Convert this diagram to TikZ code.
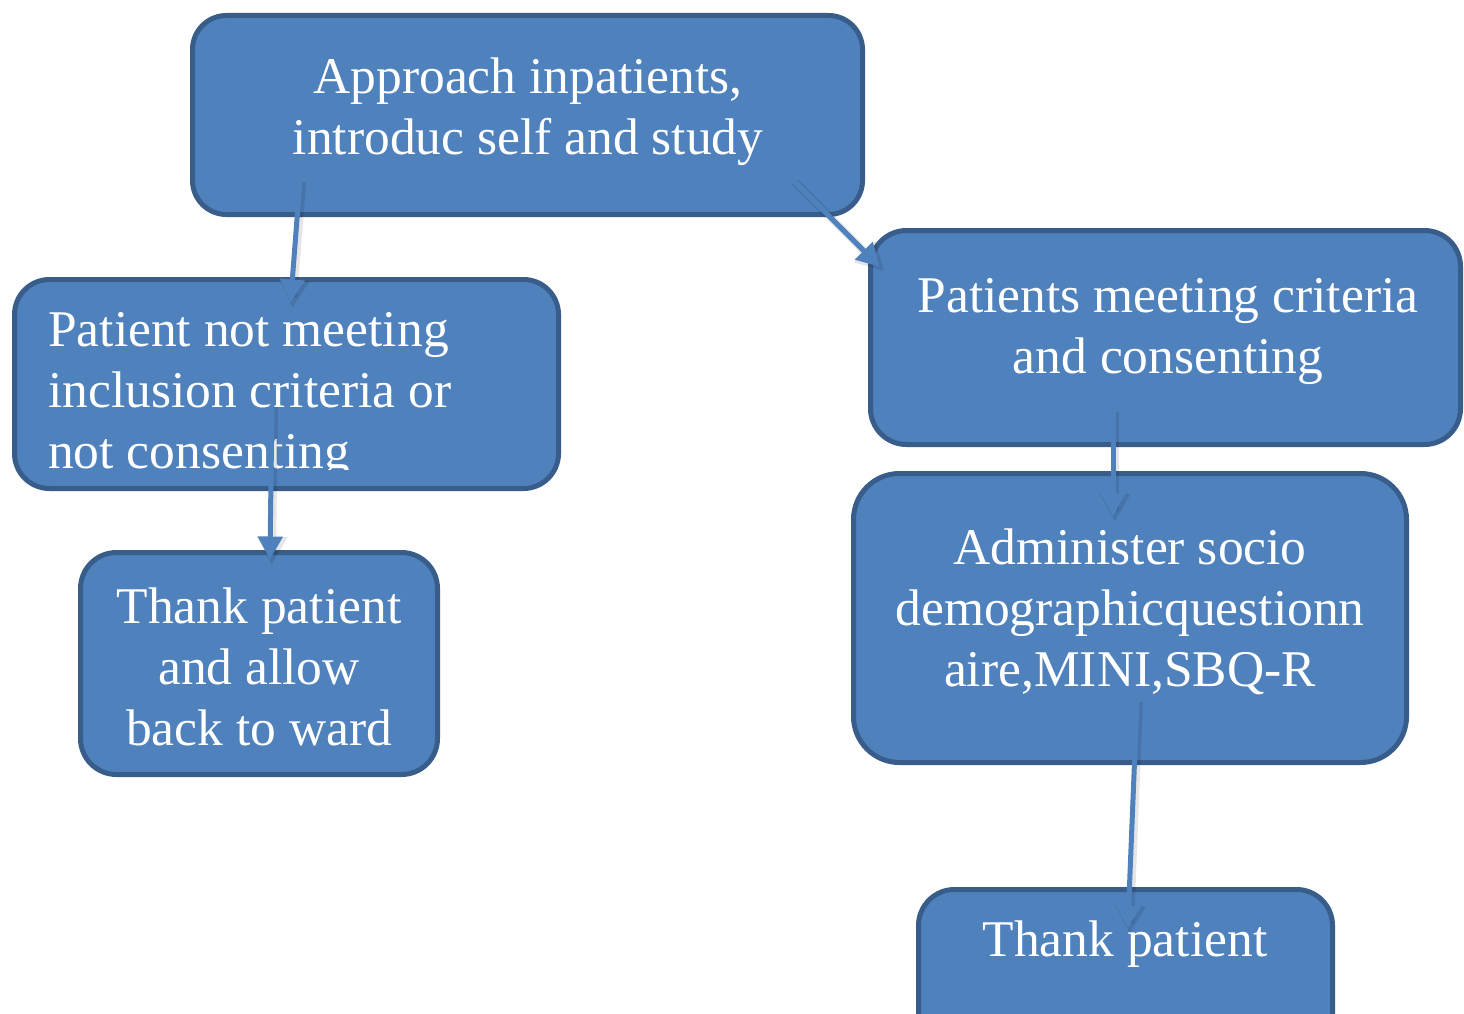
\documentclass[tikz,border=0pt]{standalone}
\usepackage{fontspec}
\setmainfont{Liberation Serif}
\usetikzlibrary{calc}
\definecolor{boxfill}{HTML}{4F81BD}
\definecolor{boxline}{HTML}{385D8A}
% straight connector with a filled triangular head, from #1 to #2
\newcommand\flowarrow[3]{%
  \coordinate (#2-base) at ($(#2)!15pt!(#1)$);
  \draw[#3] (#1) -- ($(#2)!2pt!(#1)$);
  \fill[#3] (#2) -- ($(#2-base)!8.5pt!90:(#2)$) -- ($(#2-base)!8.5pt!-90:(#2)$) -- cycle;
}
\begin{document}
\begin{tikzpicture}[x=1pt,y=1pt,
  box/.style={draw=boxline,fill=boxfill,line width=5pt,rounded corners=#1,
    inner sep=0pt,outer sep=0pt},
  box/.default=36pt,
  txt/.style={text=white,inner sep=0pt,font=\fontsize{51.5}{61}\selectfont},
  flow/.style={draw=boxfill,fill=boxfill,line width=5pt},
  flowshadow/.style={draw=black,fill=black,opacity=0.10,line width=8pt}]
\clip (0,0) rectangle (1464,-1014);
\fill[white] (0,0) rectangle (1464,-1014);

% boxes
\node[box=34pt,minimum width=670pt,minimum height=199pt] (approach) at (527.5,-115) {};
\node[box=35pt,minimum width=544pt,minimum height=209pt] (excluded) at (286.5,-384) {};
\node[box=36pt,minimum width=357pt,minimum height=222pt] (thankward) at (259,-663.5) {};
\node[box=36pt,minimum width=590pt,minimum height=214pt] (included) at (1165.5,-337.5) {};
\node[box=46pt,minimum width=553pt,minimum height=289pt] (administer) at (1130,-618) {};
\node[box=36pt,minimum width=414pt,minimum height=180pt] (thank) at (1125.5,-979.5) {};

% labels
\node[txt,align=center] (approachtxt) at (528,-112) {Approach inpatients,\\introduc self and study};
\begin{scope}
  \clip (14.5,-279.5) rectangle (558.5,-469);
  \node[txt,align=left,anchor=north west] (excludedtxt) at (48,-312)
    {Patient not meeting\\inclusion criteria or\\not consenting};
\end{scope}
\node[txt,align=center] (thankwardtxt) at (259,-667) {Thank patient\\and allow\\back to ward};
\node[txt,align=center] (includedtxt) at (1168,-332) {Patients meeting criteria\\and consenting};
\node[txt,align=center] (administertxt) at (1130,-612) {Administer socio\\demographicquestionn\\aire,MINI,SBQ-R};
\node[txt] (thanktxt) at (1125,-944) {Thank patient};

% connector ends
\coordinate (a1s) at (300,-180);  \coordinate (a1e) at (291,-297);
\coordinate (a2s) at (793,-180);  \coordinate (a2e) at (876,-263);
\coordinate (a3s) at (272,-405);  \coordinate (a3e) at (270,-554);
\coordinate (a4s) at (1113,-410); \coordinate (a4e) at (1113,-511);
\coordinate (a5s) at (1137,-700); \coordinate (a5e) at (1128,-923);

% connector shadows
\begin{scope}[transform canvas={shift={(2pt,-2pt)}}]
  \flowarrow{a1s}{a1e}{flowshadow}
  \flowarrow{a2s}{a2e}{flowshadow}
  \flowarrow{a3s}{a3e}{flowshadow}
  \flowarrow{a4s}{a4e}{flowshadow}
  \flowarrow{a5s}{a5e}{flowshadow}
\end{scope}
% connectors
\flowarrow{a1s}{a1e}{flow}
\flowarrow{a2s}{a2e}{flow}
\flowarrow{a3s}{a3e}{flow}
\flowarrow{a4s}{a4e}{flow}
\flowarrow{a5s}{a5e}{flow}
\end{tikzpicture}
\end{document}
